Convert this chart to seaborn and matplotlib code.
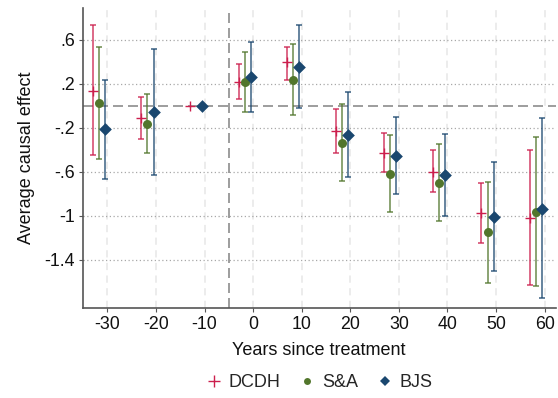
import matplotlib
matplotlib.use("Agg")
import matplotlib.pyplot as plt
from matplotlib.lines import Line2D
import numpy as np
import pandas as pd
import seaborn as sns

# ---- data ----
events = [-30, -20, -10, 0, 10, 20, 30, 40, 50, 60]

dcdh_est = [0.139, -0.112, 0.0, 0.218, 0.394, -0.233, -0.427, -0.603, -0.976, -1.021]
dcdh_lo  = [-0.452, -0.306, np.nan, 0.058, 0.236, -0.433, -0.603, -0.788, -1.248, -1.633]
dcdh_hi  = [0.733, 0.076, np.nan, 0.379, 0.539, -0.030, -0.252, -0.406, -0.703, -0.406]

sa_est = [0.027, -0.164, np.nan, 0.215, 0.236, -0.336, -0.618, -0.700, -1.152, -0.967]
sa_lo  = [-0.485, -0.433, np.nan, -0.058, -0.085, -0.688, -0.967, -1.048, -1.612, -1.639]
sa_hi  = [0.539, 0.106, np.nan, 0.491, 0.558, 0.015, -0.270, -0.352, -0.691, -0.288]

bjs_est = [-0.215, -0.058, 0.0, 0.261, 0.355, -0.264, -0.455, -0.630, -1.009, -0.936]
bjs_lo  = [-0.667, -0.633, np.nan, -0.061, -0.024, -0.648, -0.806, -1.000, -1.500, -1.752]
bjs_hi  = [0.233, 0.518, np.nan, 0.576, 0.736, 0.121, -0.106, -0.261, -0.515, -0.115]

estimators = ["DCDH", "S&A", "BJS"]
xticks = [-30, -20, -10, 0, 10, 20, 30, 40, 50, 60]
yticks = [0.6, 0.2, -0.2, -0.6, -1.0, -1.4]
ytick_labels = [".6", ".2", "-.2", "-.6", "-1", "-1.4"]

# ---- styles ----
offsets = {"DCDH": -3.0, "S&A": -1.75, "BJS": -0.5}
colors = {"DCDH": "#cc1f4d", "S&A": "#52762c", "BJS": "#1a476f"}

frames = []
for name, est, lo, hi in [("DCDH", dcdh_est, dcdh_lo, dcdh_hi),
                          ("S&A", sa_est, sa_lo, sa_hi),
                          ("BJS", bjs_est, bjs_lo, bjs_hi)]:
    frames.append(pd.DataFrame({"event": events, "est": est, "lo": lo, "hi": hi,
                                "estimator": name}))
df = pd.concat(frames, ignore_index=True)
df["x"] = df["event"] + df["estimator"].map(offsets)

sns.set_theme(style="white")
plt.rcParams["font.family"] = ["Liberation Sans", "DejaVu Sans"]

fig = plt.figure(figsize=(5.58, 3.98), dpi=100)
ax = fig.add_axes([0.148, 0.226, 0.848, 0.754])

# grid
for xt in xticks:
    ax.axvline(xt, color="#ebebeb", lw=1.3, ls=(0, (4, 3)), zorder=0)
for yt in yticks:
    ax.axhline(yt, color="#a8a8a8", lw=0.9, ls=(0, (1, 2)), zorder=0)
ax.axhline(0, color="#8c8c8c", lw=1.2, ls=(0, (6, 3)), zorder=1)
ax.axvline(-5, color="#8c8c8c", lw=1.2, ls=(0, (6, 3)), zorder=1)

# CIs
for name in estimators:
    d = df[(df["estimator"] == name) & df["lo"].notna()]
    ax.errorbar(d["x"], d["est"],
                yerr=[d["est"] - d["lo"], d["hi"] - d["est"]],
                fmt="none", ecolor=colors[name], elinewidth=1.1,
                capsize=2.3, capthick=1.1, alpha=0.85, zorder=2)

# points
d = df[(df["estimator"] == "DCDH") & df["est"].notna()]
sns.scatterplot(data=d, x="x", y="est", marker="+", s=60, linewidth=1.0,
                color=colors["DCDH"], ax=ax, zorder=3, legend=False)
d = df[(df["estimator"] == "S&A") & df["est"].notna()]
sns.scatterplot(data=d, x="x", y="est", marker="o", s=42, linewidth=0,
                color=colors["S&A"], ax=ax, zorder=3, legend=False)
d = df[(df["estimator"] == "BJS") & df["est"].notna()]
sns.scatterplot(data=d, x="x", y="est", marker="D", s=42, linewidth=0,
                color=colors["BJS"], ax=ax, zorder=4, legend=False)

ax.set_xlim(-35.1, 62.3)
ax.set_ylim(-1.84, 0.89)
ax.set_xticks(xticks)
ax.set_xticklabels([str(v) for v in xticks])
ax.set_yticks(yticks)
ax.set_yticklabels(ytick_labels)

for s in ["top", "right"]:
    ax.spines[s].set_visible(False)
for s in ["left", "bottom"]:
    ax.spines[s].set_color("#555555")
    ax.spines[s].set_linewidth(1.2)
ax.tick_params(axis="both", which="major", length=3, width=0.8, color="#555555",
               labelsize=12.8, labelcolor="#111111", direction="out", pad=2.5,
               bottom=True, left=True)

ax.set_xlabel("Years since treatment", fontsize=13, color="#111111", labelpad=7)
ax.set_ylabel("Average causal effect", fontsize=13, color="#111111", labelpad=7)

handles = [
    Line2D([], [], marker="+", ls="none", color=colors["DCDH"], markersize=8, mew=1.0),
    Line2D([], [], marker="o", ls="none", color=colors["S&A"], markersize=5, mew=0),
    Line2D([], [], marker="D", ls="none", color=colors["BJS"], markersize=5, mew=0),
]
fig.legend(handles, estimators, loc="center", bbox_to_anchor=(0.571, 0.038),
           ncol=3, frameon=False, fontsize=13, handletextpad=0.3,
           columnspacing=1.0, handlelength=1.0)

fig.savefig("out.png", dpi=100)
